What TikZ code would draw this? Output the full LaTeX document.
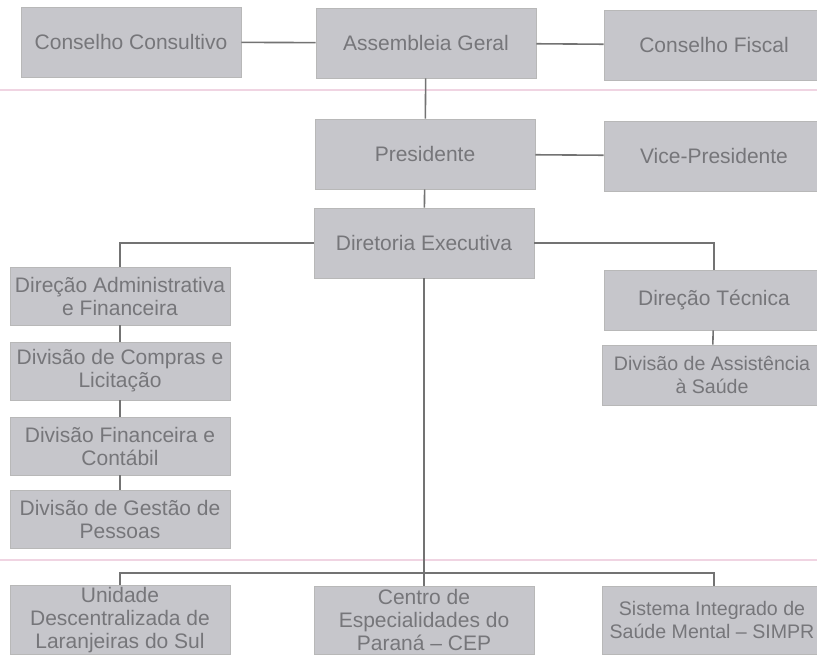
\documentclass[tikz,border=0pt]{standalone}
\usepackage{fontspec}
\setmainfont{Liberation Sans}
\definecolor{caixa}{RGB}{198,198,203}
\definecolor{texto}{RGB}{118,118,122}
\definecolor{rosa}{RGB}{240,212,226}
\begin{document}
\begin{tikzpicture}[x=0.5pt,y=-0.5pt,
  every node/.style={fill=caixa,draw=black!28,text=texto,align=center,inner sep=1pt,
    font=\fontsize{10.5}{11.5}\selectfont,minimum width=110pt,minimum height=35pt},
  baixa/.style={minimum height=29pt},
  media/.style={minimum height=30pt},
  estreita/.style={font=\fontsize{9.8}{11.5}\selectfont},
  linha/.style={draw=black!55,line width=0.8pt}]
\useasboundingbox (0,0) rectangle (817,658);
\clip (0,0) rectangle (817,658);
\fill[white] (0,0) rectangle (817,658);
\draw[rosa,line width=1pt] (0,90)--(817,90);
\draw[rosa,line width=1pt] (0,560)--(817,560);
% topo
\node (cc) at (131,42){Conselho Consultivo};
\node (ag) at (426,43){Assembleia Geral};
\node (cf) at (714,45){Conselho Fiscal};
\node (pr) at (425,154){Presidente};
\node (vp) at (714,156){Vice-Presidente};
\node (de) at (424,243){Diretoria Executiva};
% coluna esquerda
\node[baixa] (da) at (120,296){Direção Administrativa\\e Financeira};
\node[baixa] (dc) at (120,371){Divisão de Compras e\\Licitação};
\node[baixa] (df) at (120,446){Divisão Financeira e\\Contábil};
\node[baixa] (dg) at (120,519){Divisão de Gestão de\\Pessoas};
% coluna direita
\node[media] (dt) at (714,300){Direção Técnica};
\node[media,estreita] (ds) at (712,375){Divisão de Assistência\\à Saúde};
% unidades
\node[minimum height=34pt] (ud) at (120,620){Unidade\\Descentralizada de\\Laranjeiras do Sul};
\node[minimum height=34pt] (ce) at (424,620){Centro de\\Especialidades do\\Paraná -- CEP};
\node[minimum height=34pt,estreita] (si) at (712,620){Sistema Integrado de\\Saúde Mental -- SIMPR};
\coordinate (bus) at (424,573);
\draw[linha] (cc)--(ag)--(cf);
\draw[linha] (ag)--(pr)--(vp);
\draw[linha] (pr)--(de);
\draw[linha] (de.west) -| (da.north);
\draw[linha] (de.east) -| (dt.north);
\draw[linha] (da)--(dc)--(df)--(dg);
\draw[linha] (dt)--(ds);
\draw[linha] (de)--(ce);
\draw[linha] (ud.north) |- (bus) -| (dt.north |- si.north);
\end{tikzpicture}
\end{document}
